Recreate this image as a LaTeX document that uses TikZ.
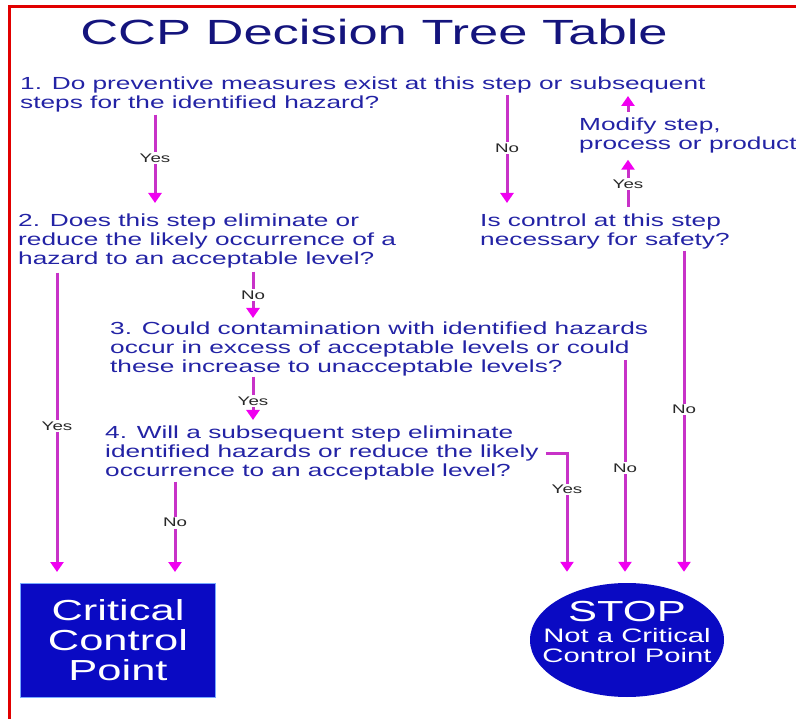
\documentclass[tikz,border=0pt]{standalone}
\usepackage{fontspec}
\setmainfont[FakeStretch=1.5]{Liberation Sans}
\usepackage{tikz}
\usetikzlibrary{arrows.meta,shapes.geometric}
\definecolor{titleblue}{RGB}{20,20,125}
\definecolor{qblue}{RGB}{35,35,165}
\definecolor{boxblue}{RGB}{10,10,195}
\definecolor{edgeblue}{RGB}{120,170,255}
\definecolor{linemag}{RGB}{200,50,200}
\definecolor{tipmag}{RGB}{240,0,240}
\definecolor{lblgray}{RGB}{40,40,40}
\definecolor{frame}{RGB}{225,0,0}

\begin{document}
\begin{tikzpicture}[x=1pt,y=-1pt,
  flow/.style={-{Triangle[width=13pt,length=10pt,color=tipmag]},
    draw=linemag,line width=3pt},
  question/.style={anchor=north west,inner sep=0pt,align=left,
    text=qblue,font=\fontsize{17.5pt}{19pt}\selectfont},
  answer/.style={fill=white,inner sep=1.5pt,text=lblgray,
    font=\fontsize{12.5pt}{14pt}\selectfont},
  result/.style={fill=boxblue,text=white,align=center,inner sep=0pt}]
  \useasboundingbox (0,0) rectangle (796,719);
  \draw[frame,line width=3pt] (9,719) -- (9,7) -- (796,7);

  \node[anchor=base,text=titleblue,font=\fontsize{35pt}{40pt}\selectfont]
    (title) at (374,45) {CCP Decision Tree Table};

  \node[question] (q1) at (20,77)
    {1. Do preventive measures exist at this step or subsequent\\
     steps for the identified hazard?};
  \node[question] (q2) at (18,214)
    {2. Does this step eliminate or\\
     reduce the likely occurrence of a\\
     hazard to an acceptable level?};
  \node[question] (modify) at (579,118) {Modify step,\\process or product};
  \node[question] (ctrl) at (480,214)
    {Is control at this step\\necessary for safety?};
  \node[question] (q3) at (110,322)
    {3. Could contamination with identified hazards\\
     occur in excess of acceptable levels or could\\
     these increase to unacceptable levels?};
  \node[question] (q4) at (105,426)
    {4. Will a subsequent step eliminate\\
     identified hazards or reduce the likely\\
     occurrence to an acceptable level?};

  \node[result,draw=edgeblue,line width=1pt,anchor=north west,
    minimum width=195pt,minimum height=114pt,
    font=\fontsize{29pt}{30pt}\selectfont]
    (ccp) at (20,583) {Critical\\Control\\Point};
  \node[result,ellipse,minimum width=194pt,minimum height=114pt]
    (stop) at (627,640) {};
  \node[text=white,align=center,inner sep=0pt,
    font=\fontsize{19.5pt}{20.5pt}\selectfont]
    (stoptext) at ([yshift=8pt]stop.center)
    {{\fontsize{29pt}{30pt}\selectfont STOP}\\Not a Critical\\Control Point};

  % columns of the connectors
  \coordinate (x1yes) at (155,0);
  \coordinate (x1no) at (507,0);
  \coordinate (xmod) at (628,0);
  \coordinate (xctrl) at (684,0);
  \coordinate (x2yes) at (57,0);
  \coordinate (x2no) at (253,0);
  \coordinate (x3no) at (625,0);
  \coordinate (x4yes) at (567,0);
  \coordinate (x4no) at (175,0);

  \draw[flow,shorten <=2pt,shorten >=11pt] (q1.south -| x1yes)
    -- node[answer,pos=.45] {Yes} (q2.north -| x1yes);
  \draw[flow,shorten <=18pt,shorten >=11pt] (q1.north -| x1no)
    -- node[answer,pos=.52] {No} (ctrl.north -| x1no);
  \draw[flow,shorten <=7pt,shorten >=6pt] (ctrl.north -| xmod)
    -- node[answer] {Yes} (modify.south -| xmod);
  \draw[flow,shorten <=6pt,shorten >=19pt] (modify.north -| xmod)
    -- (q1.north -| xmod);
  \draw[flow,shorten <=1pt,shorten >=11pt] (ctrl.south -| xctrl)
    -- node[answer,pos=.48] {No} (stop.north -| xctrl);
  \draw[flow,shorten <=4pt,shorten >=11pt] (q2.south -| x2yes)
    -- node[answer] {Yes} (ccp.north -| x2yes);
  \draw[flow,shorten <=3pt,shorten >=4pt] (q2.south -| x2no)
    -- node[answer] {No} (q3.north -| x2no);
  \draw[flow,shorten >=6pt] (q3.south -| x2no)
    -- node[answer] {Yes} (q4.north -| x2no);
  \draw[flow,shorten <=38pt,shorten >=11pt] (q3.north -| x3no)
    -- node[answer,pos=.56] {No} (stop.north -| x3no);
  \draw[flow,shorten <=7pt,shorten >=11pt] (q4.east)
    -| node[answer,pos=.64] {Yes} (stop.north -| x4yes);
  \draw[flow,shorten <=1pt,shorten >=11pt] (q4.south -| x4no)
    -- node[answer,pos=.41] {No} (ccp.north -| x4no);
\end{tikzpicture}
\end{document}
